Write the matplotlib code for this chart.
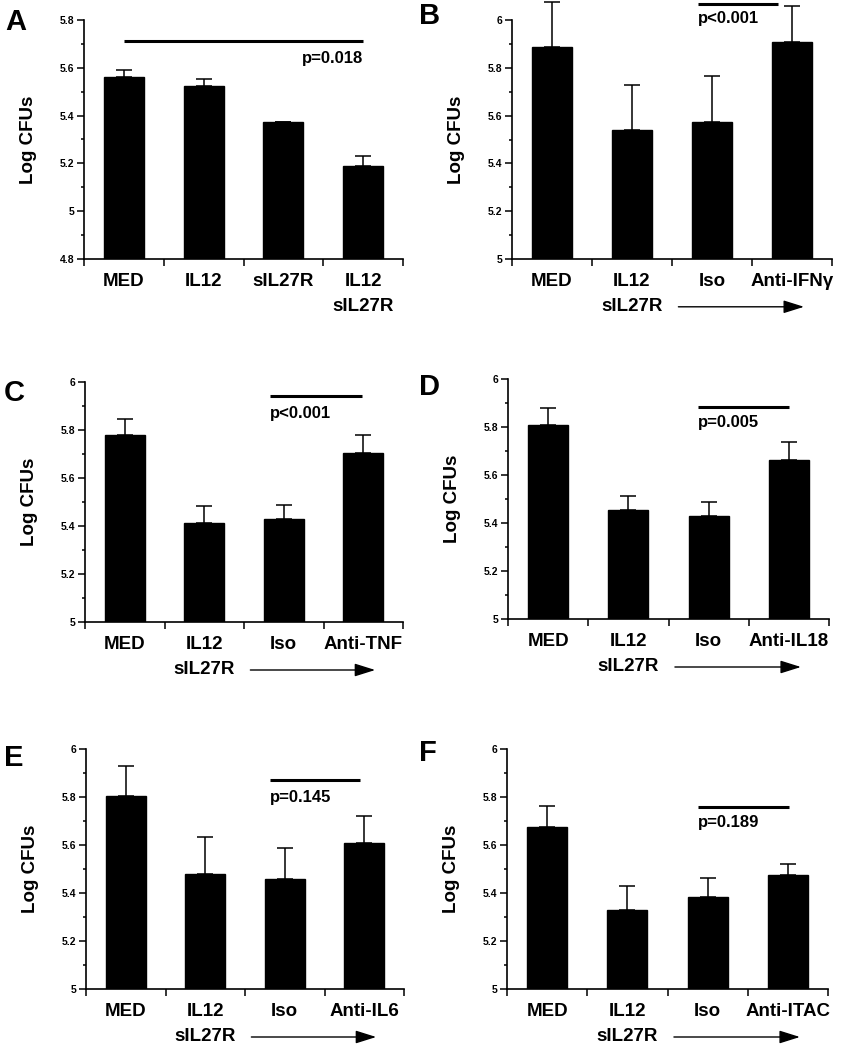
import matplotlib
matplotlib.use("Agg")
import matplotlib.pyplot as plt
from matplotlib.ticker import MultipleLocator, FuncFormatter

plt.rcParams['font.family'] = ['Liberation Sans', 'DejaVu Sans']
plt.rcParams['font.weight'] = 'bold'

# ---- data ----
labels_a = ["MED", "IL12", "sIL27R", "IL12\nsIL27R"]
means_a = [5.563, 5.522, 5.372, 5.190]
errs_a = [0.027, 0.032, 0.003, 0.042]

labels_b = ["MED", "IL12\nsIL27R", "Iso", "Anti-IFNγ"]
means_b = [5.888, 5.541, 5.573, 5.907]
errs_b = [0.186, 0.186, 0.193, 0.150]

labels_c = ["MED", "IL12\nsIL27R", "Iso", "Anti-TNF"]
means_c = [5.781, 5.414, 5.428, 5.706]
errs_c = [0.065, 0.070, 0.059, 0.072]

labels_d = ["MED", "IL12\nsIL27R", "Iso", "Anti-IL18"]
means_d = [5.810, 5.453, 5.429, 5.661]
errs_d = [0.069, 0.061, 0.057, 0.077]

labels_e = ["MED", "IL12\nsIL27R", "Iso", "Anti-IL6"]
means_e = [5.806, 5.479, 5.460, 5.610]
errs_e = [0.122, 0.154, 0.128, 0.112]

labels_f = ["MED", "IL12\nsIL27R", "Iso", "Anti-ITAC"]
means_f = [5.674, 5.331, 5.385, 5.474]
errs_f = [0.087, 0.097, 0.076, 0.048]

p_texts = ["p=0.018", "p<0.001", "p<0.001", "p=0.005", "p=0.145", "p=0.189"]
p_spans = [(0.0, 3.0), (1.83, 2.83), (1.83, 2.98), (1.87, 3.0), (1.81, 2.95), (1.88, 3.01)]
p_line_y = [5.713, 6.068, 5.942, 5.882, 5.869, 5.757]
p_text_y = [5.638, 6.008, 5.869, 5.817, 5.800, 5.692]

ylims = [(4.8, 5.8), (5, 6), (5, 6), (5, 6), (5, 6), (5, 6)]

panels = [
    ("A", labels_a, means_a, errs_a),
    ("B", labels_b, means_b, errs_b),
    ("C", labels_c, means_c, errs_c),
    ("D", labels_d, means_d, errs_d),
    ("E", labels_e, means_e, errs_e),
    ("F", labels_f, means_f, errs_f),
]

# axes boxes in pixels: left, right, top, bottom
boxes = [(84, 403, 20, 259), (512, 832, 20, 259),
         (85, 403, 382, 622), (508, 829, 379, 619),
         (86, 404, 749, 989), (507, 828, 749, 989)]
# panel letter anchor (left x, centre y) in pixels
letter_pos = [(5, 22), (419, 16), (4, 393), (419, 387), (4, 758), (419, 753)]
W, H = 847, 1050

fig = plt.figure(figsize=(W / 100, H / 100), dpi=100)

for i, (letter, labels, means, errs) in enumerate(panels):
    l, r, t, b = boxes[i]
    ax = fig.add_axes([l / W, 1 - b / H, (r - l) / W, (b - t) / H])
    x = list(range(len(means)))
    lo = ylims[i][0]
    ax.bar(x, [m - lo for m in means], bottom=lo, width=0.5, color='black',
           edgecolor='black', zorder=3)
    eb = ax.errorbar(x, means, yerr=[[0] * len(errs), errs], fmt='none',
                     ecolor='black', elinewidth=1.1, capsize=6, capthick=1.1, zorder=2)
    for part in eb.lines[1] + eb.lines[2]:
        part.set_clip_on(False)

    ax.set_xlim(-0.5, 3.5)
    ax.set_ylim(*ylims[i])
    for s in ['top', 'right']:
        ax.spines[s].set_visible(False)
    for s in ['left', 'bottom']:
        ax.spines[s].set_linewidth(1.2)

    ax.yaxis.set_major_locator(MultipleLocator(0.2))
    ax.yaxis.set_minor_locator(MultipleLocator(0.1))
    ax.yaxis.set_major_formatter(FuncFormatter(lambda v, p: f"{v:g}"))
    ax.tick_params(axis='y', which='major', length=5, width=1.1, labelsize=7.5, pad=2)
    ax.tick_params(axis='y', which='minor', length=2.5, width=1.1)

    ax.set_xticks([-0.5, 0.5, 1.5, 2.5, 3.5])
    ax.set_xticklabels([])
    ax.set_xticks(x, labels, minor=True)
    ax.tick_params(axis='x', which='major', length=5, width=1.1)
    ax.tick_params(axis='x', which='minor', length=0, pad=10, labelsize=13.5)
    for tl in ax.get_xticklabels(minor=True):
        tl.set_linespacing(1.65)

    ax.set_ylabel("Log CFUs", fontsize=13.5, fontweight='bold')
    ax.yaxis.set_label_coords(-47 / (r - l), 0.5)

    lx, ly = letter_pos[i]
    fig.text(lx / W, 1 - ly / H, letter, fontsize=21, fontweight='bold',
             ha='left', va='center')

    x0, x1 = p_spans[i]
    ax.plot([x0, x1], [p_line_y[i]] * 2, color='black', lw=2.2, clip_on=False,
            solid_capstyle='butt')
    if i == 0:
        ax.text(x1, p_text_y[i], p_texts[i], ha='right', va='center', fontsize=12)
    else:
        ax.text(x0, p_text_y[i], p_texts[i], ha='left', va='center', fontsize=12)
        ax.annotate('', xy=(3.15, -0.2), xytext=(1.58, -0.2),
                    xycoords=('data', 'axes fraction'),
                    arrowprops=dict(arrowstyle='-|>,head_length=0.7,head_width=0.22',
                                    color='black', lw=1, mutation_scale=18,
                                    shrinkA=0, shrinkB=0),
                    annotation_clip=False)

fig.savefig("out.png", dpi=100)
